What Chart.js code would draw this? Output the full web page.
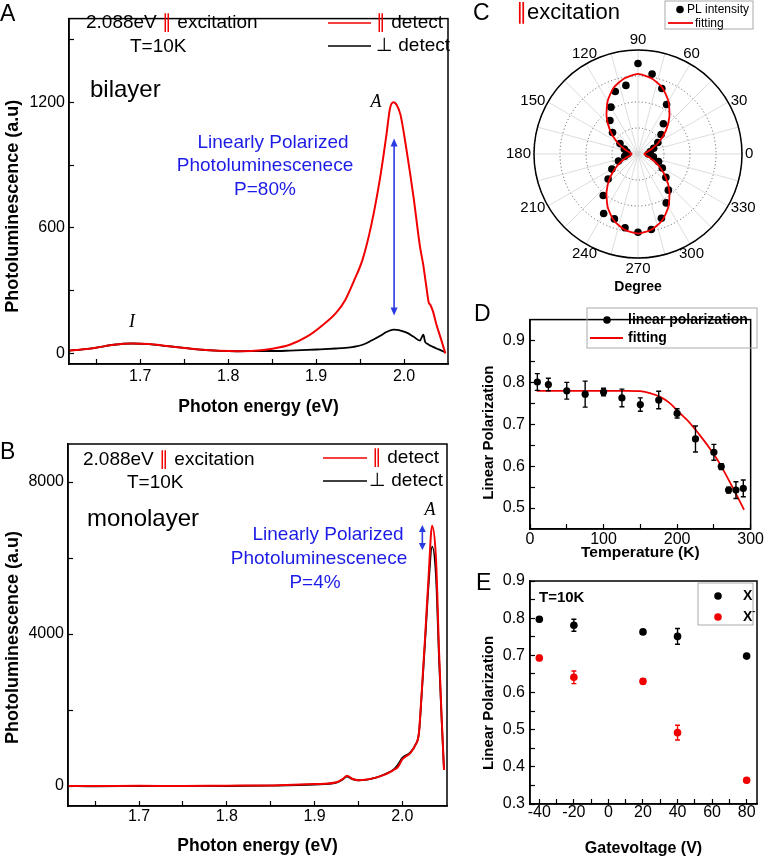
<!DOCTYPE html>
<html>
<head>
<meta charset="utf-8">
<script src="https://cdn.jsdelivr.net/npm/chart.js@4.4.0/dist/chart.umd.min.js"></script>
<style>
  body { margin: 0; background: #fff; }
  #fig { position: relative; width: 770px; height: 858px; overflow: hidden; font-family: "Liberation Sans", Arial, sans-serif; }
  #fig canvas { position: absolute; }
  .tag { position: absolute; font-size: 23px; line-height: 1; color: #000; }
</style>
</head>
<body>
<div id="fig">
  <canvas id="cA" width="470" height="420" style="left:0;top:0"></canvas>
  <canvas id="cB" width="470" height="438" style="left:0;top:420px"></canvas>
  <canvas id="cC" width="300" height="300" style="left:470px;top:0"></canvas>
  <canvas id="cD" width="290" height="265" style="left:480px;top:300px"></canvas>
  <canvas id="cE" width="290" height="298" style="left:480px;top:560px"></canvas>
  <div class="tag" style="left:0;top:2px">A</div>
  <div class="tag" style="left:0;top:440px">B</div>
  <div class="tag" style="left:473px;top:1px">C</div>
  <div class="tag" style="left:474px;top:302px">D</div>
  <div class="tag" style="left:476px;top:571px">E</div>
</div>
<script>
const FONT = '"Liberation Sans", Arial, sans-serif';
const RED = '#f00000';
const BLUE = '#1c1ce6';
Chart.defaults.font.family = FONT;

// ---- A: bilayer PL spectra ----
const energyA = [1.619, 1.635, 1.65, 1.67, 1.69, 1.71, 1.73, 1.75, 1.77, 1.79, 1.81, 1.83, 1.85, 1.87, 1.89, 1.9045, 1.9227, 1.933, 1.9428, 1.953,
  1.963, 1.973, 1.98, 1.984, 1.988, 1.992, 1.996, 2.003, 2.011, 2.018, 2.022, 2.024, 2.026, 2.028, 2.030, 2.033, 2.037, 2.042, 2.047];
const parA = [14, 20, 28, 42, 48, 45, 36, 27, 18, 13, 11, 13, 23, 42, 82, 126, 194, 255, 345, 451,
  618, 845, 1045, 1170, 1200, 1185, 1140, 968, 741, 514, 420, 360, 300, 245, 232, 200, 136, 70, 0];
const perpA = [14, 20, 28, 42, 48, 45, 36, 27, 18, 13, 11, 12, 12, 14, 17, 20, 24, 27, 32, 42,
  62, 85, 103, 110, 114, 113, 110, 100, 80, 62, 90, 55, 48, 42, 38, 32, 24, 15, 5];

// ---- B: monolayer PL spectra ----
const energyB = [1.619, 1.65, 1.70, 1.75, 1.80, 1.85, 1.90, 1.925, 1.932, 1.937, 1.943, 1.95, 1.96, 1.97, 1.98,
  1.99, 1.995, 2.0, 2.009, 2.015, 2.019, 2.022, 2.026, 2.030, 2.034, 2.0385, 2.042, 2.045, 2.0476];
const parB = [0, 0, 5, 0, 10, 15, 50, 100, 180, 270, 190, 150, 170, 220, 300,
  420, 500, 700, 860, 1080, 1400, 2400, 3900, 5500, 6850, 5950, 3500, 1750, 420];
const perpB = [0, -10, 0, 5, 0, 10, 40, 90, 170, 250, 180, 150, 170, 220, 310,
  430, 560, 740, 880, 1080, 1390, 2350, 3800, 5300, 6300, 5500, 3300, 1700, 420];

// ---- C: polar PL intensity (degrees) ----
const dotAngles = [0, 10, 20, 30, 40, 50, 60, 70, 80, 90, 100, 110, 120, 130, 140, 150, 160, 170,
  180, 190, 200, 210, 220, 230, 240, 250, 260, 270, 280, 290, 300, 310, 320, 330, 340, 350];
const dotR = [0.10, 0.12, 0.16, 0.22, 0.29, 0.38, 0.55, 0.67, 0.78, 0.87, 0.67, 0.64, 0.52, 0.42, 0.32, 0.20, 0.14, 0.11,
  0.10, 0.13, 0.20, 0.29, 0.375, 0.52, 0.66, 0.664, 0.72, 0.753, 0.737, 0.658, 0.543, 0.454, 0.35, 0.27, 0.21, 0.15];
const fitR = [0.06, 0.08, 0.14, 0.235, 0.35, 0.47, 0.585, 0.68, 0.74, 0.77, 0.74, 0.68, 0.585, 0.47, 0.35, 0.235, 0.14, 0.08,
  0.06, 0.08, 0.14, 0.235, 0.35, 0.47, 0.585, 0.68, 0.74, 0.765, 0.74, 0.68, 0.585, 0.47, 0.35, 0.235, 0.14, 0.08];

// ---- D: linear polarization vs temperature ----
const tempK = [10, 25, 50, 75, 100, 125, 150, 175, 200, 225, 250, 260, 270, 280, 290];
const polT = [0.801, 0.795, 0.780, 0.772, 0.777, 0.763, 0.747, 0.758, 0.726, 0.665, 0.633, 0.599, 0.543, 0.543, 0.547];
const errT = [0.020, 0.015, 0.020, 0.031, 0.009, 0.021, 0.016, 0.021, 0.011, 0.031, 0.019, 0.007, 0.007, 0.020, 0.020];
const fitTK = [9, 50, 100, 132, 150, 163, 177, 190, 203, 216, 230, 243, 256, 269, 278, 291];
const fitTP = [0.780, 0.780, 0.780, 0.780, 0.779, 0.7745, 0.7655, 0.7506, 0.728, 0.706, 0.676, 0.646, 0.612, 0.571, 0.541, 0.496];

// ---- E: linear polarization vs gate voltage ----
const gateV = [-40, -20, 20, 40, 80];
const polX = [0.797, 0.781, 0.763, 0.751, 0.698];
const errX = [0.006, 0.016, 0.006, 0.021, 0.005];
const polXm = [0.693, 0.641, 0.630, 0.492, 0.364];
const errXm = [0.007, 0.017, 0.007, 0.020, 0.006];

// ---- ticks ----
const tickAX = [1.65, 1.70, 1.75, 1.80, 1.85, 1.90, 1.95, 2.00];
const labelAX = ['', '1.7', '', '1.8', '', '1.9', '', '2.0'];
const tickAY = [0, 300, 600, 900, 1200, 1500];
const labelAY = ['0', '', '600', '', '1200', ''];
const tickBY = [0, 2000, 4000, 6000, 8000];
const labelBY = ['0', '', '4000', '', '8000'];
const tickDX = [0, 50, 100, 150, 200, 250, 300];
const labelDX = ['0', '', '100', '', '200', '', '300'];
const tickDY = [0.5, 0.55, 0.6, 0.65, 0.7, 0.75, 0.8, 0.85, 0.9];
const labelDY = ['0.5', '', '0.6', '', '0.7', '', '0.8', '', '0.9'];
const tickEX = [-40, -30, -20, -10, 0, 10, 20, 30, 40, 50, 60, 70, 80];
const labelEX = ['-40', '', '-20', '', '0', '', '20', '', '40', '', '60', '', '80'];
const tickEY = [0.3, 0.35, 0.4, 0.45, 0.5, 0.55, 0.6, 0.65, 0.7, 0.75, 0.8, 0.85, 0.9];
const labelEY = ['0.3', '', '0.4', '', '0.5', '', '0.6', '', '0.7', '', '0.8', '', '0.9'];

const pairs = (xs, ys) => xs.map((x, i) => ({ x: x, y: ys[i] }));

function axis(o) {
  const vertical = o.pos === 'left';
  return {
    type: 'linear', position: o.pos, min: o.min, max: o.max,
    afterBuildTicks: s => { s.ticks = o.ticks.map(v => ({ value: v })); },
    afterFit: s => { if (vertical) s.width = o.size; else s.height = o.size; },
    grid: { drawOnChartArea: false, tickLength: -5, tickColor: '#000', tickWidth: 1.2 },
    border: { color: '#000', width: 1.5 },
    ticks: { autoSkip: false, maxRotation: 0, padding: o.pad, color: '#000', font: { size: 16 },
      callback: (v, i) => o.labels[i] },
    title: { display: true, text: o.title, color: '#000', font: { size: o.tfs, weight: 'bold' },
      padding: vertical ? { top: o.tpad, bottom: 0 } : { top: 0, bottom: o.tpad } }
  };
}

// box around the plot area
const frame = {
  id: 'frame',
  afterDraw(chart) {
    const a = chart.chartArea, ctx = chart.ctx;
    ctx.save();
    ctx.strokeStyle = '#000';
    ctx.lineWidth = 1.5;
    ctx.strokeRect(a.left, a.top, a.right - a.left, a.bottom - a.top);
    ctx.restore();
  }
};

const errorBars = {
  id: 'errorBars',
  afterDatasetsDraw(chart) {
    const ctx = chart.ctx, ys = chart.scales.y;
    chart.data.datasets.forEach((ds, di) => {
      if (!ds.errorBars) return;
      const meta = chart.getDatasetMeta(di);
      ctx.save();
      ctx.strokeStyle = ds.pointBackgroundColor;
      ctx.lineWidth = 1.4;
      meta.data.forEach((pt, i) => {
        const v = ds.data[i].y, e = ds.errorBars[i];
        const y1 = ys.getPixelForValue(v + e), y2 = ys.getPixelForValue(v - e);
        ctx.beginPath();
        ctx.moveTo(pt.x, y1); ctx.lineTo(pt.x, y2);
        ctx.moveTo(pt.x - 2.5, y1); ctx.lineTo(pt.x + 2.5, y1);
        ctx.moveTo(pt.x - 2.5, y2); ctx.lineTo(pt.x + 2.5, y2);
        ctx.stroke();
      });
      ctx.restore();
    });
  }
};

// text, legend keys and arrows drawn on top of a chart
function notes(items) {
  return {
    id: 'notes',
    afterDraw(chart) {
      const ctx = chart.ctx;
      ctx.save();
      items.forEach(it => {
        if (it.segs) {
          let x = it.x;
          ctx.textAlign = 'left';
          ctx.textBaseline = 'middle';
          it.segs.forEach(s => {
            ctx.font = s.font || it.font;
            ctx.fillStyle = s.color || '#000';
            ctx.fillText(s.t, x, it.y + (s.dy || 0));
            x += ctx.measureText(s.t).width;
          });
        } else if (it.t) {
          ctx.font = it.font;
          ctx.fillStyle = it.color || '#000';
          ctx.textAlign = it.align || 'left';
          ctx.textBaseline = 'middle';
          ctx.fillText(it.t, it.x, it.y);
        } else if (it.line) {
          ctx.strokeStyle = it.color;
          ctx.lineWidth = it.w || 1.6;
          ctx.beginPath();
          ctx.moveTo(it.line[0], it.line[1]);
          ctx.lineTo(it.line[2], it.line[3]);
          ctx.stroke();
        } else if (it.dot) {
          ctx.fillStyle = it.color;
          ctx.beginPath();
          ctx.arc(it.dot[0], it.dot[1], it.r || 4, 0, Math.PI * 2);
          ctx.fill();
        } else if (it.box) {
          ctx.strokeStyle = it.color || '#aaa';
          ctx.lineWidth = 1;
          ctx.strokeRect(it.box[0], it.box[1], it.box[2], it.box[3]);
        } else if (it.arrow) {
          const xs = chart.scales.x, ys = chart.scales.y;
          const x = xs.getPixelForValue(it.arrow[0]);
          const y1 = ys.getPixelForValue(it.arrow[1]), y2 = ys.getPixelForValue(it.arrow[2]);
          const h = it.head || 8;
          ctx.strokeStyle = it.color; ctx.fillStyle = it.color; ctx.lineWidth = 1.6;
          ctx.beginPath(); ctx.moveTo(x, y1 + h - 1); ctx.lineTo(x, y2 - h + 1); ctx.stroke();
          ctx.beginPath(); ctx.moveTo(x, y1); ctx.lineTo(x - 3.5, y1 + h); ctx.lineTo(x + 3.5, y1 + h); ctx.closePath(); ctx.fill();
          ctx.beginPath(); ctx.moveTo(x, y2); ctx.lineTo(x - 3.5, y2 - h); ctx.lineTo(x + 3.5, y2 - h); ctx.closePath(); ctx.fill();
        }
      });
      ctx.restore();
    }
  };
}

const baseOpts = (padding, scales) => ({
  responsive: false, animation: false, devicePixelRatio: 1,
  layout: { padding: padding },
  plugins: { legend: { display: false }, tooltip: { enabled: false } },
  scales: scales
});

const F19 = '19px ' + FONT, F24 = '24px ' + FONT, FIT = 'italic 18px "Liberation Serif", "Times New Roman", serif';

function spectrumChart(id, energy, par, perp, yCfg, xCfg, pad, items) {
  return new Chart(document.getElementById(id), {
    type: 'line',
    data: {
      datasets: [
        { label: '∥ detect', data: pairs(energy, par), borderColor: RED, borderWidth: 2, pointRadius: 0, cubicInterpolationMode: 'monotone' },
        { label: '⊥ detect', data: pairs(energy, perp), borderColor: '#000', borderWidth: 1.8, pointRadius: 0, cubicInterpolationMode: 'monotone' }
      ]
    },
    options: baseOpts(pad, { x: axis(xCfg), y: axis(yCfg) }),
    plugins: [frame, notes(items)]
  });
}

// Panel A (trailing spaces in the y title nudge it toward the bottom, as in the reference)
spectrumChart('cA', energyA, parA, perpA,
  { pos: 'left', min: -50, max: 1600, ticks: tickAY, labels: labelAY, size: 69, pad: 9, title: 'Photoluminescence (a.u)      ', tfs: 18, tpad: 2 },
  { pos: 'bottom', min: 1.619, max: 2.05, ticks: tickAX, labels: labelAX, size: 56, pad: 8, title: 'Photon energy (eV)', tfs: 17.5, tpad: 2 },
  { top: 2, right: 22, left: 0, bottom: 0 },
  [
    { x: 86, y: 23, font: F19, segs: [{ t: '2.088eV ' }, { t: '∥', color: RED }, { t: ' excitation' }] },
    { t: 'T=10K', x: 130, y: 47, font: F19 },
    { line: [328, 23, 371, 23], color: RED },
    { x: 376, y: 23, font: F19, segs: [{ t: '∥', color: RED }, { t: ' detect' }] },
    { line: [328, 46, 371, 46], color: '#000' },
    { x: 376, y: 46, font: F19, segs: [{ t: '⊥' }, { t: ' detect' }] },
    { t: 'bilayer', x: 90, y: 90, font: F24 },
    { t: 'A', x: 376, y: 102, font: FIT, align: 'center' },
    { t: 'I', x: 132, y: 322, font: FIT, align: 'center' },
    { t: 'Linearly Polarized', x: 273, y: 143, font: F19, color: BLUE, align: 'center' },
    { t: 'Photoluminescenece', x: 265, y: 166, font: F19, color: BLUE, align: 'center' },
    { t: 'P=80%', x: 265, y: 190, font: F19, color: BLUE, align: 'center' },
    { arrow: [1.9887, 1027, 182], color: '#2a3be0' }
  ]);

// Panel B
spectrumChart('cB', energyB, parB, perpB,
  { pos: 'left', min: -526, max: 9000, ticks: tickBY, labels: labelBY, size: 68, pad: 9, title: 'Photoluminescence (a.u)     ', tfs: 18, tpad: 2 },
  { pos: 'bottom', min: 1.619, max: 2.051, ticks: tickAX, labels: labelAX, size: 52, pad: 6, title: 'Photon energy (eV)', tfs: 17.5, tpad: 1 },
  { top: 24, right: 23, left: 0, bottom: 0 },
  [
    { x: 83, y: 40, font: F19, segs: [{ t: '2.088eV ' }, { t: '∥', color: RED }, { t: ' excitation' }] },
    { t: 'T=10K', x: 127, y: 63, font: F19 },
    { line: [323, 38, 367, 38], color: RED },
    { x: 372, y: 38, font: F19, segs: [{ t: '∥', color: RED }, { t: ' detect' }] },
    { line: [323, 61, 367, 61], color: '#000' },
    { x: 369, y: 61, font: F19, segs: [{ t: '⊥' }, { t: ' detect' }] },
    { t: 'monolayer', x: 87, y: 99, font: F24 },
    { t: 'A', x: 430, y: 90, font: FIT, align: 'center' },
    { t: 'Linearly Polarized', x: 328, y: 115, font: F19, color: BLUE, align: 'center' },
    { t: 'Photoluminescenece', x: 319, y: 139, font: F19, color: BLUE, align: 'center' },
    { t: 'P=4%', x: 315, y: 163, font: F19, color: BLUE, align: 'center' },
    { arrow: [2.0229, 6868, 6210], color: '#2a3be0', head: 7 }
  ]);

// Panel C: radar scale used as polar plot, index 0 at top, clockwise => angle = 90 - 5*i
const polarCats = [];
for (let i = 0; i < 72; i++) polarCats.push((90 - 5 * i + 360) % 360);
const byAngle = (vals) => polarCats.map(a => { const k = dotAngles.indexOf(a); return k < 0 ? null : vals[k]; });

const polarLabels = {
  id: 'polarLabels',
  afterDraw(chart) {
    const r = chart.scales.r, ctx = chart.ctx;
    ctx.save();
    // solid outer circle
    ctx.strokeStyle = '#000';
    ctx.lineWidth = 1.5;
    ctx.beginPath();
    ctx.arc(r.xCenter, r.yCenter, r.drawingArea, 0, Math.PI * 2);
    ctx.stroke();
    ctx.fillStyle = '#000';
    ctx.font = '15px ' + FONT;
    chart.data.labels.forEach((a, i) => {
      if (a % 30 !== 0) return;
      const p = r.getPointPosition(i, r.drawingArea + 3);
      const rad = a * Math.PI / 180, c = Math.cos(rad), s = Math.sin(rad);
      ctx.textAlign = Math.abs(c) < 0.6 ? 'center' : (c > 0 ? 'left' : 'right');
      ctx.textBaseline = Math.abs(s) < 0.6 ? 'middle' : (s > 0 ? 'bottom' : 'top');
      ctx.fillText(String(a), p.x, p.y);
    });
    ctx.restore();
  }
};

new Chart(document.getElementById('cC'), {
  type: 'radar',
  data: {
    labels: polarCats,
    datasets: [
      { label: 'fitting', data: byAngle(fitR), spanGaps: true, fill: false, borderColor: RED, borderWidth: 1.8, pointRadius: 0, tension: 0.2 },
      { label: 'PL intensity', data: byAngle(dotR), showLine: false, fill: false, borderColor: 'transparent',
        pointRadius: 3.8, pointBackgroundColor: '#000', pointBorderColor: '#000', pointBorderWidth: 0 }
    ]
  },
  options: {
    responsive: false, animation: false, devicePixelRatio: 1,
    layout: { padding: { left: 64, right: 28, top: 50, bottom: 42 } },
    plugins: { legend: { display: false }, tooltip: { enabled: false } },
    scales: {
      r: {
        min: 0, max: 1, startAngle: 0,
        ticks: { display: false, stepSize: 0.25 },
        pointLabels: { display: false },
        grid: { circular: true, color: '#444', lineWidth: 0.9 },
        border: { dash: [1, 2.5] },
        angleLines: { color: c => (c.index % 3 === 0 ? '#d4d4d4' : 'transparent'), lineWidth: 0.8 }
      }
    }
  },
  plugins: [polarLabels, notes([
    { t: '∥', x: 46, y: 13, font: '22px ' + FONT, color: RED },
    { t: 'excitation', x: 57, y: 13, font: '22px ' + FONT },
    { box: [195, 1, 88, 28], color: '#aaa' },
    { dot: [210, 9.5], r: 3.8, color: '#000' },
    { t: 'PL intensity', x: 217, y: 10, font: '12px ' + FONT },
    { line: [198, 23, 223, 23], color: RED, w: 1.8 },
    { t: 'fitting', x: 225, y: 24, font: '12px ' + FONT },
    { t: 'Degree', x: 168, y: 287, font: 'bold 14px ' + FONT, align: 'center' }
  ])]
});

// Panel D
new Chart(document.getElementById('cD'), {
  type: 'scatter',
  data: {
    datasets: [
      { label: 'linear polarization', data: pairs(tempK, polT), errorBars: errT, pointRadius: 3.6,
        pointBackgroundColor: '#000', pointBorderColor: '#000', pointBorderWidth: 0 },
      { label: 'fitting', data: pairs(fitTK, fitTP), showLine: true, borderColor: RED, borderWidth: 1.8,
        pointRadius: 0, cubicInterpolationMode: 'monotone' }
    ]
  },
  options: baseOpts({ top: 7, right: 13, left: 0, bottom: 0 }, {
    x: axis({ pos: 'bottom', min: 0, max: 300, ticks: tickDX, labels: labelDX, size: 36, pad: 6, title: 'Temperature (K)', tfs: 15.5, tpad: 3 }),
    y: axis({ pos: 'left', min: 0.45, max: 0.95, ticks: tickDY, labels: labelDY, size: 50, pad: 10, title: 'Linear Polarization    ', tfs: 15, tpad: 0 })
  }),
  plugins: [frame, errorBars, notes([
    { box: [107, 8, 170, 40], color: '#aaa' },
    { dot: [127, 20], r: 3.8, color: '#000' },
    { t: 'linear polarization', x: 148, y: 20, font: 'bold 14px ' + FONT },
    { line: [110, 38, 143, 38], color: RED, w: 1.8 },
    { t: 'fitting', x: 148, y: 38, font: 'bold 14px ' + FONT }
  ])]
});

// Panel E
new Chart(document.getElementById('cE'), {
  type: 'scatter',
  data: {
    datasets: [
      { label: 'X', data: pairs(gateV, polX), errorBars: errX, pointRadius: 3.8,
        pointBackgroundColor: '#000', pointBorderColor: '#000', pointBorderWidth: 0 },
      { label: 'X-', data: pairs(gateV, polXm), errorBars: errXm, pointRadius: 3.8,
        pointBackgroundColor: RED, pointBorderColor: RED, pointBorderWidth: 0 }
    ]
  },
  options: baseOpts({ top: 21, right: 13, left: 0, bottom: 0 }, {
    x: axis({ pos: 'bottom', min: -45.4, max: 86, ticks: tickEX, labels: labelEX, size: 54, pad: 4, title: 'Gatevoltage (V)', tfs: 16, tpad: 0 }),
    y: axis({ pos: 'left', min: 0.3, max: 0.9, ticks: tickEY, labels: labelEY, size: 50, pad: 10, title: 'Linear Polarization     ', tfs: 15, tpad: 0 })
  }),
  plugins: [frame, errorBars, notes([
    { t: 'T=10K', x: 59, y: 38, font: 'bold 15px ' + FONT },
    { box: [218, 23, 55, 42], color: '#aaa' },
    { dot: [238, 36], r: 3.8, color: '#000' },
    { t: 'X', x: 263, y: 36, font: 'bold 14px ' + FONT },
    { dot: [238, 57], r: 3.8, color: RED },
    { x: 263, y: 57, font: 'bold 14px ' + FONT, segs: [{ t: 'X' }, { t: '-', font: 'bold 9px ' + FONT, dy: -5 }] }
  ])]
});
</script>
</body>
</html>
